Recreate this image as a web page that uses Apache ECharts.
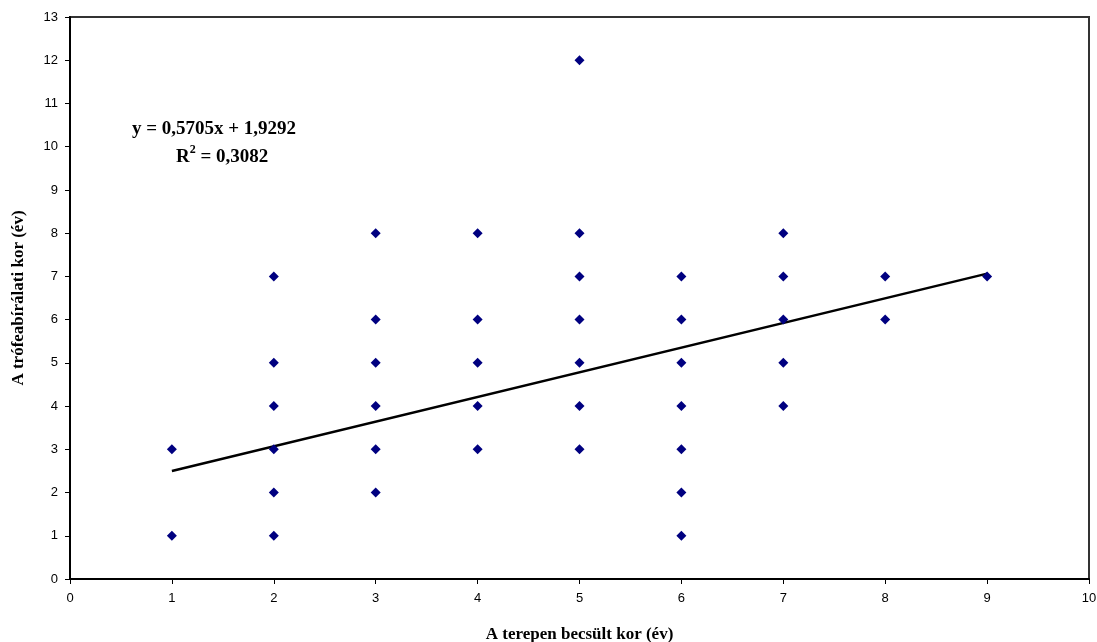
<!DOCTYPE html>
<html><head><meta charset="utf-8">
<script src="https://cdn.jsdelivr.net/npm/echarts@6/dist/echarts.min.js"></script>
<style>html,body{margin:0;padding:0;background:#fff}#c{width:1097px;height:642px}</style>
</head><body><div id="c"></div>
<script>
const xValues = [1,1, 2,2,2,2,2,2, 3,3,3,3,3,3, 4,4,4,4,4, 5,5,5,5,5,5,5, 6,6,6,6,6,6,6, 7,7,7,7,7, 8,8, 9];
const yValues = [3,1, 7,5,4,3,2,1, 8,6,5,4,3,2, 8,6,5,4,3, 12,8,7,6,5,4,3, 7,6,5,4,3,2,1, 8,7,6,5,4, 7,6, 7];
const trendX = [1, 9];
const trendY = [2.4997, 7.0637];
const eqLine1 = 'y = 0,5705x + 1,9292';
const eqLine2 = 'R{sup|2} = 0,3082';
const xTitle = 'A terepen becsült kor (év)';
const yTitle = 'A trófeabírálati kor (év)';

const points = xValues.map((x, i) => [x, yValues[i]]);
const trend = trendX.map((x, i) => [x, trendY[i]]);

const chart = echarts.init(document.getElementById('c'), null, {renderer: 'canvas'});
const tickFont = {fontFamily: 'Liberation Sans, Arial, sans-serif', fontSize: 13, color: '#000'};
const titleFont = {fontFamily: 'Liberation Serif, Times New Roman, serif', fontWeight: 'bold', fontSize: 17, color: '#000'};
chart.setOption({
  animation: false,
  grid: {left: 70, right: 8, top: 17, bottom: 63, outerBoundsMode: 'none', containLabel: false,
         show: true, borderColor: '#333', borderWidth: 2, backgroundColor: '#fff'},
  xAxis: {
    type: 'value', min: 0, max: 10, interval: 1,
    name: xTitle, nameLocation: 'middle', nameGap: 47,
    nameTextStyle: titleFont,
    axisLine: {lineStyle: {color: '#000', width: 2}},
    axisTick: {show: true, length: 5, lineStyle: {color: '#000'}},
    axisLabel: Object.assign({margin: 13, showMaxLabel: true, showMinLabel: true}, tickFont),
    splitLine: {show: false}
  },
  yAxis: {
    type: 'value', min: 0, max: 13, interval: 1,
    name: yTitle, nameLocation: 'middle', nameGap: 43, nameRotate: 90,
    nameTextStyle: titleFont,
    axisLine: {lineStyle: {color: '#000', width: 2}},
    axisTick: {show: true, length: 5, lineStyle: {color: '#000'}},
    axisLabel: Object.assign({margin: 12}, tickFont),
    splitLine: {show: false}
  },
  series: [
    {type: 'line', data: trend, showSymbol: false, symbol: 'none', lineStyle: {color: '#000', width: 2.5}, z: 2},
    {type: 'scatter', data: points, symbol: 'diamond', symbolSize: 10, itemStyle: {color: '#000080', opacity: 1}, z: 3}
  ],
  graphic: [
    {type: 'text', x: 214, y: 129, z: 10,
     style: {text: eqLine1, align: 'center', verticalAlign: 'middle', font: 'bold 19px "Liberation Serif", serif', fill: '#000'}},
    {type: 'text', x: 176, y: 157, z: 10,
     style: {text: eqLine2, align: 'left', verticalAlign: 'middle', font: 'bold 19px "Liberation Serif", serif', fill: '#000',
       rich: {sup: {fontSize: 12, fontWeight: 'bold', fontFamily: 'Liberation Serif', padding: [0, 0, 14, 0]}}}}
  ]
});
</script></body></html>
